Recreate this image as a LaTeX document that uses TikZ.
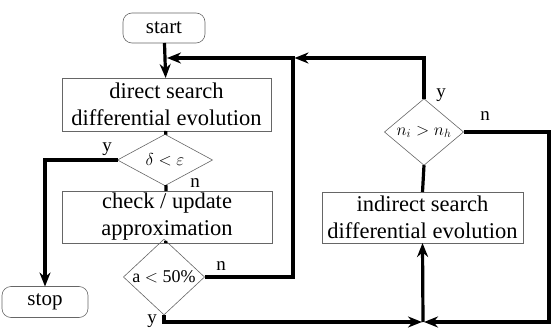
\documentclass[tikz,border=0pt]{standalone}
\usepackage{fontspec}
\setmainfont{Liberation Serif}
\usetikzlibrary{shapes.geometric,arrows.meta}
\begin{document}
\begin{tikzpicture}[x=1pt,y=-1pt,
  every node/.style={inner sep=0pt,outer sep=0pt},
  box/.style={draw=black!60,line width=0.6pt,rectangle,align=center,
    font=\fontsize{22.5}{27}\selectfont},
  term/.style={draw=black!60,line width=0.6pt,rectangle,rounded corners=9pt,
    font=\fontsize{21}{24}\selectfont},
  dec/.style={draw=black!60,line width=0.6pt,diamond,font=\fontsize{18}{20}\selectfont},
  conn/.style={line width=3.2pt},
  arr/.style={conn,-{Stealth[length=14pt,width=11pt]}},
  lab/.style={font=\fontsize{19}{20}\selectfont}
]
\useasboundingbox (0,0) rectangle (551,331);
% nodes
\node[term,minimum width=82pt,minimum height=30pt] (start) at (164,28) {start};
\node[box,minimum width=209pt,minimum height=53pt] (ds) at (166.5,104.5) {direct search\\differential evolution};
\node[dec,minimum width=95pt,minimum height=46pt] (d1) at (165,160) {$\delta<\varepsilon$};
\node[box,minimum width=210pt,minimum height=52pt] (cu) at (167,217) {check / update\\approximation};
\node[dec,minimum width=81pt,minimum height=47pt] (d2) at (164,277) {a $<$ 50\%};
\node[term,minimum width=86pt,minimum height=31pt] (stop) at (45,302) {stop};
\node[dec,minimum width=79pt,minimum height=47pt] (d3) at (424,132) {$n_i > n_h$};
\node[box,minimum width=201pt,minimum height=51pt] (is) at (422.5,217.5) {indirect search\\differential evolution};
% junctions
\coordinate (top) at (293,58);
\coordinate (tin) at (164,58);
\coordinate (j) at (423,322);
% connectors
\draw[arr] (start) -- (ds);
\draw[conn] (ds) -- (d1);
\draw[conn] (d1) -- (cu);
\draw[conn] (cu) -- (d2);
\draw[arr] (d1.west) -| (stop.north);
\draw[arr] (d2.east) -| (top) -- ([xshift=3pt]tin);
\draw[arr] (d3.north) |- ([xshift=1.5pt]top);
\draw[arr] (d2.south) |- ([xshift=-1pt]j);
\draw[arr] (d3.east) -- (549,132) |- ([xshift=1pt]j);
\draw[arr] (j) -- (is.south);
\draw[conn] (d3.south) -- (is.north);
% labels
\node[lab] at (107,149) {y};
\node[lab] at (195,183) {n};
\node[lab] at (221,266) {n};
\node[lab] at (152,321) {y};
\node[lab] at (441,95) {y};
\node[lab] at (485,116) {n};
\end{tikzpicture}
\end{document}
